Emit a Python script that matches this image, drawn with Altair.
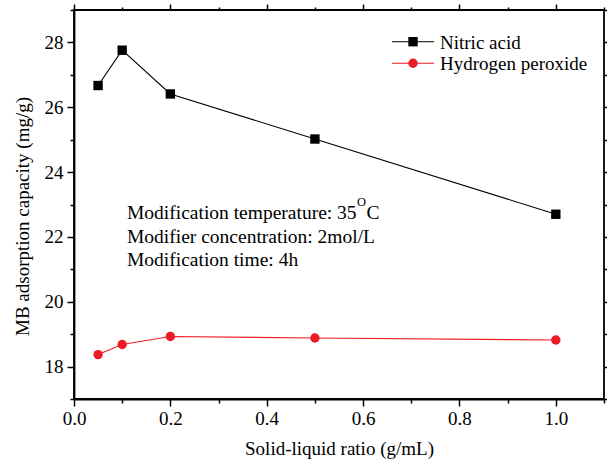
import altair as alt
import pandas as pd

# ---- data ----
ratio = [0.05, 0.1, 0.2, 0.5, 1.0]
nitric = [26.67, 27.76, 26.41, 25.02, 22.70]
peroxide = [18.37, 18.68, 18.93, 18.88, 18.82]
series_names = ["Nitric acid", "Hydrogen peroxide"]
series_colors = ["#000000", "#ed1c24"]
series_shapes = ["square", "circle"]
x_ticks = [0.0, 0.1, 0.2, 0.3, 0.4, 0.5, 0.6, 0.7, 0.8, 0.9, 1.0, 1.1]
y_ticks = [17, 18, 19, 20, 21, 22, 23, 24, 25, 26, 27, 28, 29]
note_lines = ["Modification temperature: 35", "Modifier concentration: 2mol/L", "Modification time: 4h"]

df = pd.DataFrame({
    "ratio": ratio + ratio,
    "capacity": nitric + peroxide,
    "series": [series_names[0]] * len(ratio) + [series_names[1]] * len(ratio),
})

FONT = "Liberation Serif"
W, H = 530, 389

xscale = alt.Scale(domain=[0, 1.1], nice=False, zero=False)
yscale = alt.Scale(domain=[17, 29], nice=False, zero=False)
color_scale = alt.Scale(domain=series_names, range=series_colors)
shape_scale = alt.Scale(domain=series_names, range=series_shapes)

x_major = "abs(datum.value*5 - round(datum.value*5)) < 0.001"
y_major = "abs(datum.value % 2) < 0.001"

common = dict(grid=False, tickColor="black", tickWidth=1.5,
              labelFont=FONT, labelFontSize=19, labelColor="black",
              titleFont=FONT, titleFontSize=19, titleColor="black", titleFontWeight="normal")

x_bottom = alt.Axis(values=x_ticks, orient="bottom", domainColor="black", domainWidth=1.8,
                    tickSize={"condition": {"test": x_major, "value": 7}, "value": 4},
                    labelExpr=f"{x_major} ? format(datum.value, '.1f') : ''",
                    labelPadding=3, titlePadding=11, labelFlush=False, labelOverlap=False,
                    title="Solid-liquid ratio (g/mL)", **common)
y_left = alt.Axis(values=y_ticks, orient="left", domainColor="black", domainWidth=1.8,
                  tickSize={"condition": {"test": y_major, "value": 7}, "value": 4},
                  labelExpr=f"{y_major} ? format(datum.value, 'd') : ''",
                  labelPadding=4, titlePadding=12, labelFlush=False, labelOverlap=False,
                  titleY=206,
                  title="MB adsorption capacity (mg/g)", **common)
x_top = alt.Axis(values=x_ticks, orient="top", domain=False, labels=False, title=None,
                 tickSize={"condition": {"test": x_major, "value": 6}, "value": 3},
                 grid=False, tickColor="black", tickWidth=1.5)
y_right = alt.Axis(values=y_ticks, orient="right", domain=False, labels=False, title=None,
                   tickSize={"condition": {"test": y_major, "value": 6}, "value": 3},
                   grid=False, tickColor="black", tickWidth=1.5)

base = alt.Chart(df)

lines = base.mark_line(strokeWidth=1.1).encode(
    x=alt.X("ratio:Q", scale=xscale, axis=x_bottom),
    y=alt.Y("capacity:Q", scale=yscale, axis=y_left),
    color=alt.Color("series:N", scale=color_scale, legend=None),
    detail="series:N",
)

points = base.mark_point(filled=True, opacity=1, size=88).encode(
    x=alt.X("ratio:Q", scale=xscale, axis=x_top),
    y=alt.Y("capacity:Q", scale=yscale, axis=y_right),
    color=alt.Color("series:N", scale=color_scale, legend=None),
    shape=alt.Shape("series:N", scale=shape_scale, legend=None),
)

layers = [lines, points]

# legend (manual, line + marker like the original)
for i, (name, col, shp) in enumerate(zip(series_names, series_colors, series_shapes)):
    ly = 31.7 + 21.6 * i
    one = alt.Chart(pd.DataFrame({"t": [name]}))
    layers.append(one.mark_rule(color=col, strokeWidth=1.1).encode(
        x=alt.value(318), x2=alt.value(360), y=alt.value(ly)))
    layers.append(one.mark_point(filled=True, opacity=1, size=88, shape=shp, color=col).encode(
        x=alt.value(339), y=alt.value(ly)))
    layers.append(one.mark_text(align="left", baseline="middle", font=FONT, fontSize=19,
                                color="black").encode(
        text="t:N", x=alt.value(366), y=alt.value(ly + 1)))

# annotation text
note = alt.Chart(pd.DataFrame({"t": ["\n".join(note_lines)]}))
layers.append(note.mark_text(align="left", baseline="alphabetic", font=FONT, fontSize=19.5,
                             lineBreak="\n", lineHeight=23.5, color="black").encode(
    text="t:N", x=alt.value(53), y=alt.value(209)))
sup = alt.Chart(pd.DataFrame({"t": ["O"]}))
layers.append(sup.mark_text(align="left", baseline="alphabetic", font=FONT, fontSize=12.5,
                            color="black").encode(text="t:N", x=alt.value(283), y=alt.value(196)))
cel = alt.Chart(pd.DataFrame({"t": ["C"]}))
layers.append(cel.mark_text(align="left", baseline="alphabetic", font=FONT, fontSize=19.5,
                            color="black").encode(text="t:N", x=alt.value(292.5), y=alt.value(209)))

chart = alt.layer(*layers).resolve_axis(x="independent", y="independent").properties(
    width=W, height=H,
    autosize=alt.AutoSizeParams(type="none"),
    padding={"left": 74, "top": 10, "right": 3, "bottom": 64},
    background="white",
).configure_view(stroke="black", strokeWidth=1.8)

chart.save("out.html", embed_options={"renderer": "svg", "actions": False})
